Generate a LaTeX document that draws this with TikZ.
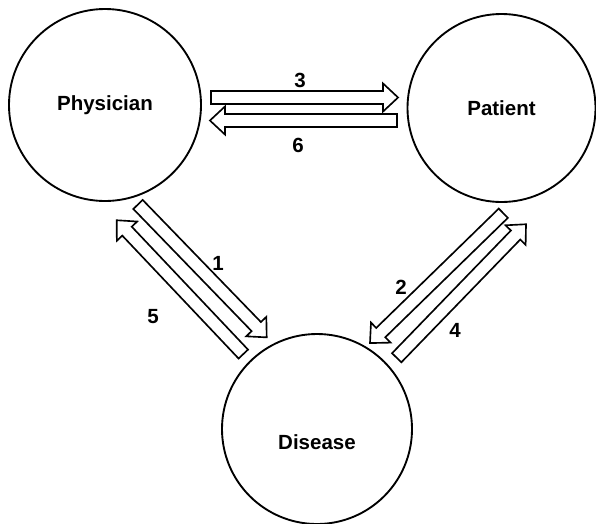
\documentclass[tikz,border=0pt]{standalone}
\usepackage{fontspec}
\setmainfont{Liberation Sans}
\usetikzlibrary{calc}

\def\shaftw{0.195cm}
\def\headw{0.42cm}
\def\headl{0.45cm}

\tikzset{
  state/.style={draw, circle, line width=1.6pt, inner sep=0pt,
    font=\fontsize{17.5}{21}\selectfont\bfseries},
  num/.style={font=\fontsize{17.5}{21}\selectfont\bfseries},
  hollow/.style={line width=1.4pt, line join=miter, to path={
    let \p1=($(\tikztotarget)-(\tikztostart)$), \n1={atan2(\y1,\x1)} in
    ($(\tikztostart)+(\n1+90:\shaftw)$)
    -- ($(\tikztotarget)+(\n1+180:\headl)+(\n1+90:\shaftw)$)
    -- ($(\tikztotarget)+(\n1+180:\headl)+(\n1+90:\headw)$)
    -- (\tikztotarget)
    -- ($(\tikztotarget)+(\n1+180:\headl)+(\n1-90:\headw)$)
    -- ($(\tikztotarget)+(\n1+180:\headl)+(\n1-90:\shaftw)$)
    -- ($(\tikztostart)+(\n1-90:\shaftw)$) -- cycle}}
}

\begin{document}
\begin{tikzpicture}[x=0.03cm, y=-0.03cm]
	\useasboundingbox (0,0) rectangle (596,523);
	% the three parties
	\node[state, minimum size=5.76cm] (phys) at (105,105) {Physician};
	\node[state, minimum size=5.64cm] (pat) at (501.5,108) {Patient};
	\node[state, minimum size=5.7cm] (dis) at (317,429) {};
	\node[num] (distext) at (317,442) {Disease};
	% physician <-> patient
	\draw[hollow] ([shift={(9,-7.5)}]phys.east) to ([shift={(-8.5,-10.5)}]pat.west);
	\draw[hollow] ([shift={(-9.5,12.5)}]pat.west) to ([shift={(8,15.5)}]phys.east);
	% physician <-> disease
	\draw[hollow] ([shift={(33,2.5)}]phys.south) to ([shift={(-50.3,4.3)}]dis.north);
	\draw[hollow] ([shift={(-73.7,21)}]dis.north) to ([shift={(11.7,18.3)}]phys.south);
	% patient <-> disease
	\draw[hollow] ([shift={(1.8,10.3)}]pat.south) to ([shift={(53,10)}]dis.north);
	\draw[hollow] ([shift={(79.7,24.7)}]dis.north) to ([shift={(24.5,21.3)}]pat.south);
	% numbers
	\node[num] (n3) at (300,80) {3};
	\node[num] (n6) at (298,145) {6};
	\node[num] (n1) at (218,263) {1};
	\node[num] (n5) at (153,317) {5};
	\node[num] (n2) at (401,287) {2};
	\node[num] (n4) at (455,330) {4};
\end{tikzpicture}
\end{document}
